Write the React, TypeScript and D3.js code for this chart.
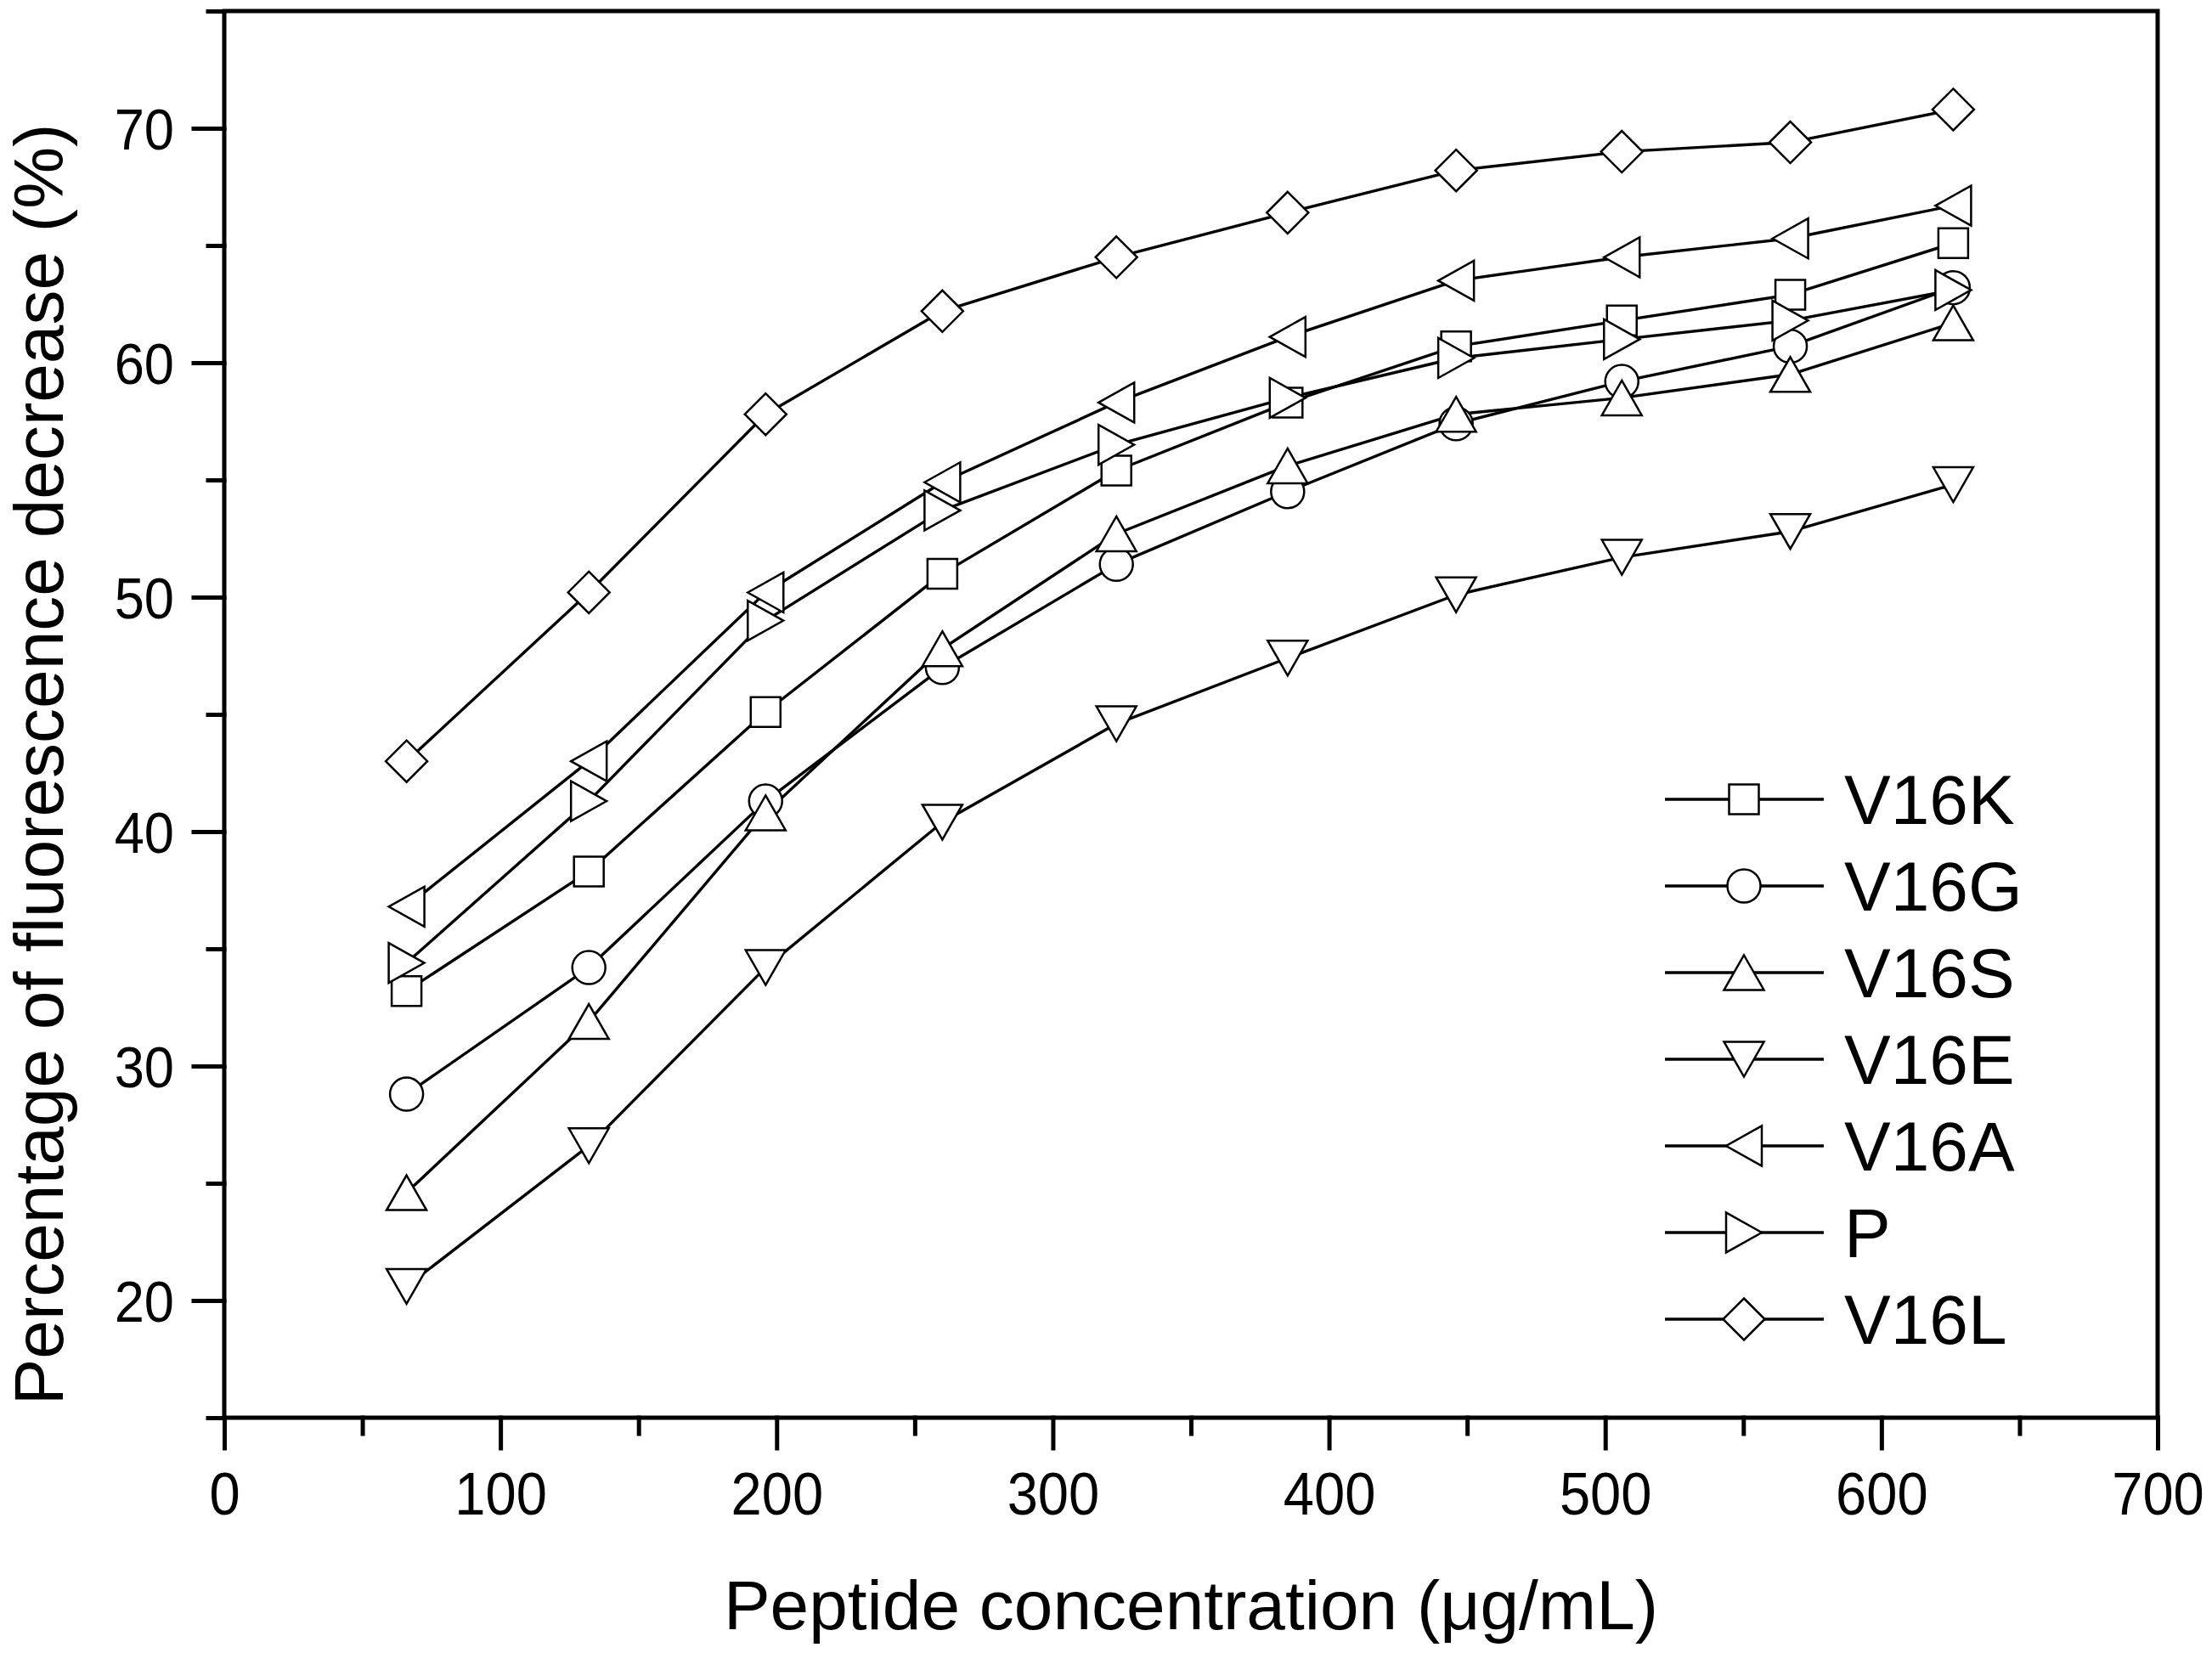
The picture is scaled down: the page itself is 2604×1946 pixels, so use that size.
import { useEffect, useRef } from 'react';
import * as d3 from 'd3';

// Peptide concentration (µg/mL)
const CONC = [66, 132, 196, 260, 323, 385, 446, 506, 567, 626];

// Percentage of fluorescence decrease (%)
const V16K = [33.2, 38.3, 45.1, 51.0, 55.4, 58.3, 60.7, 61.8, 62.9, 65.1];
const V16G = [28.8, 34.2, 41.3, 47.0, 51.4, 54.5, 57.4, 59.2, 60.7, 63.2];
const V16S = [24.6, 31.9, 40.8, 47.8, 52.7, 55.6, 57.8, 58.5, 59.5, 61.7];
const V16E = [20.6, 26.6, 34.2, 40.4, 44.6, 47.4, 50.1, 51.7, 52.8, 54.8];
const V16A = [36.8, 43.0, 50.2, 54.9, 58.3, 61.1, 63.5, 64.5, 65.3, 66.7];
const P = [34.4, 41.3, 49.0, 53.7, 56.5, 58.5, 60.2, 61.0, 61.8, 63.1];
const V16L = [43.0, 50.2, 57.8, 62.2, 64.5, 66.4, 68.2, 69.0, 69.4, 70.8];

const SERIES_NAMES = ['V16K', 'V16G', 'V16S', 'V16E', 'V16A', 'P', 'V16L'];
const SERIES_VALUES = [V16K, V16G, V16S, V16E, V16A, P, V16L];
const SHAPES = ['square', 'circle', 'up', 'down', 'left', 'right', 'diamond'];

const X_MAJOR = [0, 100, 200, 300, 400, 500, 600, 700];
const X_MINOR = [50, 150, 250, 350, 450, 550, 650];
const Y_MAJOR = [20, 30, 40, 50, 60, 70];
const Y_MINOR = [15, 25, 35, 45, 55, 65, 75];

const W = 2604;
const H = 1946;
const FONT = '"Liberation Sans", Arial, Helvetica, sans-serif';
const NARROW = 0.93; // tick labels are slightly condensed

// marker outline around (cx, cy)
const markerPath = (shape: string, cx: number, cy: number) => {
  const p = d3.path();
  if (shape === 'square') {
    p.rect(cx - 17.5, cy - 17.5, 35, 35);
  } else if (shape === 'circle') {
    p.moveTo(cx + 19.5, cy);
    p.arc(cx, cy, 19.5, 0, Math.PI * 2);
  } else if (shape === 'diamond') {
    p.moveTo(cx, cy - 24.5);
    p.lineTo(cx + 24.5, cy);
    p.lineTo(cx, cy + 24.5);
    p.lineTo(cx - 24.5, cy);
  } else if (shape === 'up') {
    p.moveTo(cx, cy - 20.5);
    p.lineTo(cx + 23.5, cy + 20.5);
    p.lineTo(cx - 23.5, cy + 20.5);
  } else if (shape === 'down') {
    p.moveTo(cx, cy + 20.5);
    p.lineTo(cx + 23.5, cy - 20.5);
    p.lineTo(cx - 23.5, cy - 20.5);
  } else if (shape === 'left') {
    p.moveTo(cx - 21, cy);
    p.lineTo(cx + 21, cy - 23.5);
    p.lineTo(cx + 21, cy + 23.5);
  } else {
    p.moveTo(cx + 21, cy);
    p.lineTo(cx - 21, cy - 23.5);
    p.lineTo(cx - 21, cy + 23.5);
  }
  p.closePath();
  return p.toString();
};

export default function App() {
  const svgRef = useRef<SVGSVGElement>(null);

  useEffect(() => {
    document.body.style.margin = '0';
    const svg = d3.select(svgRef.current);
    svg.selectAll('*').remove();

    const x = d3.scaleLinear().domain([0, 700]).range([264, 2540]);
    const y = d3.scaleLinear().domain([15, 75]).range([1669, 13]);

    svg.append('rect').attr('width', W).attr('height', H).attr('fill', 'white');

    // Minor ticks
    const minorX = svg.append('g').attr('transform', `translate(0,${y(15)})`)
      .call(d3.axisBottom(x).tickValues(X_MINOR).tickSize(19).tickFormat(() => ''));
    const minorY = svg.append('g').attr('transform', `translate(${x(0)},0)`)
      .call(d3.axisLeft(y).tickValues(Y_MINOR).tickSize(19).tickFormat(() => ''));

    // Major ticks with labels
    const majorX = svg.append('g').attr('transform', `translate(0,${y(15)})`)
      .call(d3.axisBottom(x).tickValues(X_MAJOR).tickSize(36).tickPadding(28).tickFormat(d3.format('d')));
    const majorY = svg.append('g').attr('transform', `translate(${x(0)},0)`)
      .call(d3.axisLeft(y).tickValues(Y_MAJOR).tickSize(36).tickFormat(d3.format('d')));

    for (const g of [minorX, minorY, majorX, majorY]) {
      g.select('.domain').remove();
      g.selectAll('line').attr('stroke', 'black').attr('stroke-width', 5).attr('stroke-linecap', 'square');
      g.selectAll('text').attr('fill', 'black').attr('font-family', FONT);
    }
    majorX.selectAll('text').attr('font-size', 70).attr('transform', `scale(${NARROW},1)`);
    majorY.selectAll('text').attr('font-size', 68).attr('dy', '0.36em')
      .attr('x', -59 / NARROW).attr('transform', `scale(${NARROW},1)`);

    // Frame
    svg.append('rect')
      .attr('x', x(0)).attr('y', y(75))
      .attr('width', x(700) - x(0)).attr('height', y(15) - y(75))
      .attr('fill', 'none').attr('stroke', 'black').attr('stroke-width', 5);

    // Series lines
    const line = d3.line<number>().x((_, i) => x(CONC[i])).y((v) => y(v));
    SERIES_VALUES.forEach((vals) => {
      svg.append('path').attr('d', line(vals)).attr('fill', 'none')
        .attr('stroke', 'black').attr('stroke-width', 3.4).attr('stroke-linejoin', 'round');
    });

    // Markers
    SERIES_VALUES.forEach((vals, s) => {
      vals.forEach((v, i) => {
        svg.append('path').attr('d', markerPath(SHAPES[s], x(CONC[i]), y(v)))
          .attr('fill', 'white').attr('stroke', 'black').attr('stroke-width', 2.5);
      });
    });

    // Legend
    const lg = svg.append('g');
    SERIES_NAMES.forEach((name, i) => {
      const cy = 941 + i * 102;
      lg.append('line').attr('x1', 1960).attr('x2', 2147).attr('y1', cy).attr('y2', cy)
        .attr('stroke', 'black').attr('stroke-width', 3.4);
      lg.append('path').attr('d', markerPath(SHAPES[i], 2053, cy))
        .attr('fill', 'white').attr('stroke', 'black').attr('stroke-width', 2.5);
      lg.append('text').attr('x', 2171).attr('y', cy + 29)
        .attr('font-family', FONT).attr('font-size', 82).attr('fill', 'black').text(name);
    });

    // Axis titles
    svg.append('text')
      .attr('x', 1402).attr('y', 1918).attr('text-anchor', 'middle')
      .attr('font-family', FONT).attr('font-size', 82).attr('fill', 'black')
      .text('Peptide concentration (μg/mL)');
    svg.append('text')
      .attr('transform', 'translate(74,900) rotate(-90)').attr('text-anchor', 'middle')
      .attr('font-family', FONT).attr('font-size', 82).attr('fill', 'black')
      .text('Percentage of fluorescence decrease (%)');
  }, []);

  return <svg ref={svgRef} width={W} height={H} style={{ display: 'block' }} />;
}
